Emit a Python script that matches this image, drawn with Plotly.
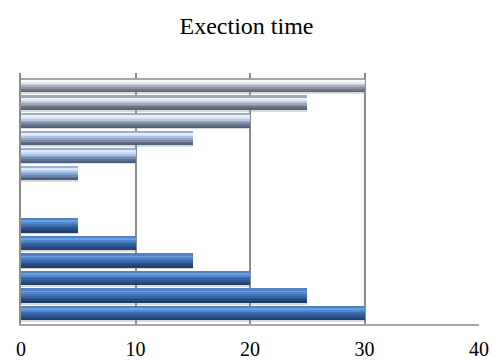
import plotly.graph_objects as go

# Execution time per run; two groups of six bars separated by two empty slots
slots_lower = [1, 2, 3, 4, 5, 6]
values_lower = [30, 25, 20, 15, 10, 5]
slots_upper = [9, 10, 11, 12, 13, 14]
values_upper = [5, 10, 15, 20, 25, 30]
x_ticks = [0, 10, 20, 30, 40]

SERIF = "Liberation Serif"

# shading profiles for the bevelled bars, bottom stripe first
dark_profile = ["#1f3d6a", "#274a7e", "#2e5790", "#3764a3", "#4273b6", "#5288cc", "#6a9ee0", "#5282c2"]
blue_profile = ["#4a5f85", "#5a7299", "#6c86b0", "#86a2cc", "#a3c0e6", "#c2dafa", "#d6e8fc", "#9ab2d6"]
gray_profile = ["#5f6472", "#727786", "#8c91a0", "#a9aebb", "#c8cdd8", "#e6eaf2", "#f6f8fb", "#a2a6b0"]


def mix(c1, c2, t):
    a = [int(c1[i:i + 2], 16) for i in (1, 3, 5)]
    b = [int(c2[i:i + 2], 16) for i in (1, 3, 5)]
    return "#" + "".join(f"{round(x + (y - x) * t):02x}" for x, y in zip(a, b))


BAR_W = 0.8
N = len(dark_profile)
STRIPE = BAR_W / N

fig = go.Figure()
common = dict(orientation="h", hoverinfo="skip", showlegend=False)


def add_bars(slots, values, stripe_colors):
    # soft drop shadow under each bar
    fig.add_trace(go.Bar(y=slots, x=values, width=BAR_W, offset=-BAR_W / 2 - 0.12,
                         marker=dict(color="rgba(150,150,150,0.35)", line_width=0), **common))
    # stacked horizontal stripes give the bevelled gradient
    for i in range(N):
        fig.add_trace(go.Bar(y=slots, x=values, width=STRIPE * 1.02,
                             offset=-BAR_W / 2 + i * STRIPE,
                             marker=dict(color=[c[i] for c in stripe_colors], line_width=0),
                             **common))


add_bars(slots_lower, values_lower, [dark_profile] * len(slots_lower))
upper_colors = [[mix(b, g, k / (len(slots_upper) - 1)) for b, g in zip(blue_profile, gray_profile)]
                for k in range(len(slots_upper))]
add_bars(slots_upper, values_upper, upper_colors)

fig.update_layout(
    width=493, height=363,
    margin=dict(l=21, r=14, t=73, b=39, autoexpand=False),
    paper_bgcolor="white", plot_bgcolor="white",
    barmode="overlay", bargap=0,
    font=dict(family=SERIF, color="black"),
    title=dict(text="Exection time", x=0.5, xanchor="center", y=0.93, yanchor="middle",
               font=dict(family=SERIF, size=24, color="black")),
    xaxis=dict(range=[0, 40], tickvals=x_ticks, showgrid=True, gridcolor="#8c8c8c", gridwidth=1.5,
               zeroline=False, showline=True, linecolor="#a6a6a6", linewidth=2,
               ticks="outside", ticklen=6, tickcolor="rgba(0,0,0,0)", automargin=False,
               tickfont=dict(family=SERIF, size=20, color="black"), fixedrange=True),
    yaxis=dict(range=[0.37, 14.68], showticklabels=False, showgrid=False, zeroline=False,
               showline=True, linecolor="#8c8c8c", linewidth=1.5, automargin=False,
               fixedrange=True),
)

fig.write_html("out.html")
